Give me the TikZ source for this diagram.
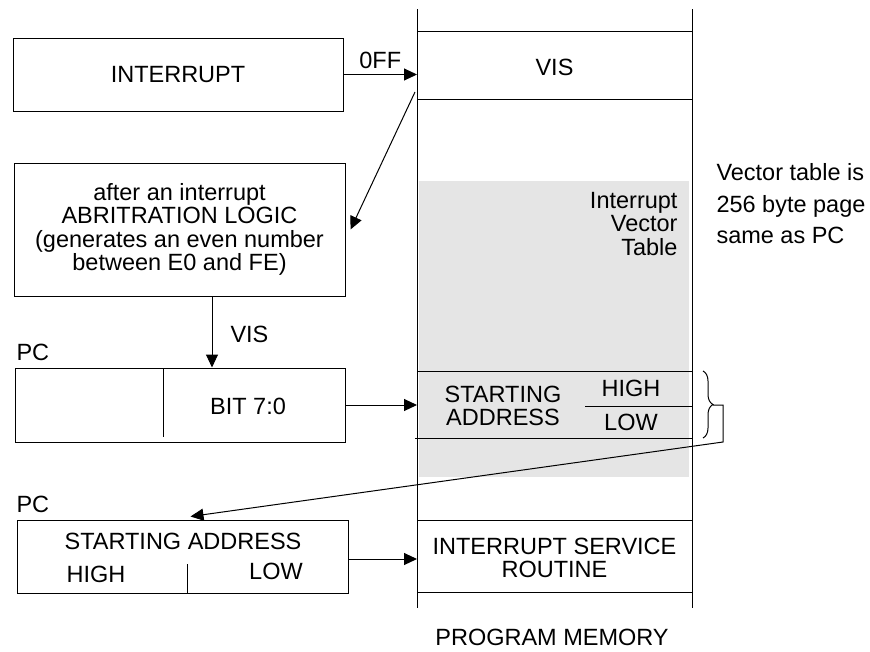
\documentclass[tikz,border=0pt]{standalone}
\usepackage{fontspec}
\setmainfont{Liberation Sans}
\usetikzlibrary{arrows.meta,decorations.pathreplacing}

\tikzset{
  box/.style={draw, line width=1pt},
  arr/.style={-{Triangle[length=13pt,width=12pt]}, line width=1pt},
}

\begin{document}
\begin{tikzpicture}[x=1pt, y=-1pt, inner sep=0pt, line width=1pt,
    font=\fontsize{23.5pt}{23.5pt}\selectfont]
    \useasboundingbox (0,0) rectangle (870,651);
    % program memory column
    \fill[gray!20] (419,181) rectangle (689,477);
    \draw (417,9) -- (417,608);
    \draw (692,9) -- (692,608);
    \draw (417,31) -- (692,31);
    \draw (417,99) -- (693,99);
    \draw (417,371) -- (692,371);
    \draw (585,406) -- (692,406);
    \draw (415,438) -- (692,438);
    \draw (417,520) -- (692,520);
    \draw (417,592) -- (693,592);
    \coordinate (memL) at (417,0);
    \node (vis) at (554.5,67) {VIS};
    \node[align=right, anchor=east] (ivt) at (678,224) {Interrupt\\Vector\\Table};
    \node[align=center] (start) at (503,406) {STARTING\\ADDRESS};
    \node (high) at (631,388) {HIGH};
    \node (low) at (631,422) {LOW};
    \node[align=center] (isr) at (554.5,558) {INTERRUPT SERVICE\\ROUTINE};
    \node (progmem) at (552,637) {PROGRAM MEMORY};
    \node[align=left, anchor=west] (note) at (716,204)
        {Vector table is\\[8pt]256 byte page\\[8pt]same as PC};
    % left side blocks
    \node[box, minimum width=330, minimum height=73] (intr) at (178,74.5) {INTERRUPT};
    \node[box, minimum width=331, minimum height=133, align=center] (arb) at (179.5,229.5)
        {after an interrupt\\ABRITRATION LOGIC\\(generates an even number\\between E0 and FE)};
    \node[box, minimum width=330, minimum height=74] (pc1) at (180,405) {};
    \draw (163,368) -- (163,437);
    \node (bit) at (248,406.5) {BIT 7:0};
    \node[anchor=base west] (pc1lbl) at (16,360) {PC};
    \node[box, minimum width=331, minimum height=73] (pc2) at (182.5,556.5) {};
    \draw (187,564) -- (187,593);
    \node (sa) at (183,541.5) {STARTING ADDRESS};
    \node (pchigh) at (96,574) {HIGH};
    \node (pclow) at (276,571.5) {LOW};
    \node[anchor=base west] (pc2lbl) at (16,512) {PC};
    % connectors
    \coordinate (visout) at (415,92);
    \coordinate (vdrop) at (212,0);
    \draw[arr] (intr.east) -- node[above=5pt] (offlbl) {0FF} (intr.east -| memL);
    \draw[arr] (visout) -- ([xshift=5pt]arb.east);
    \draw[arr] (arb.south -| vdrop) -- node[pos=0.53, right=18pt] (vislbl) {VIS} (pc1.north -| vdrop);
    \draw[arr] (pc1.east) -- (pc1.east -| memL);
    \draw[arr] ([yshift=-2.5pt]pc2.east) -- ([yshift=-2.5pt]pc2.east -| memL);
    % brace round HIGH/LOW
    \draw[decorate, decoration={brace, amplitude=10pt}] (703,371) -- (703,438);
    \coordinate (bracetip) at (713,405);
    \draw[arr] (bracetip) -- (723,405) -- (723,442) -- ([xshift=8pt,yshift=3pt]pc2.north);
\end{tikzpicture}
\end{document}
